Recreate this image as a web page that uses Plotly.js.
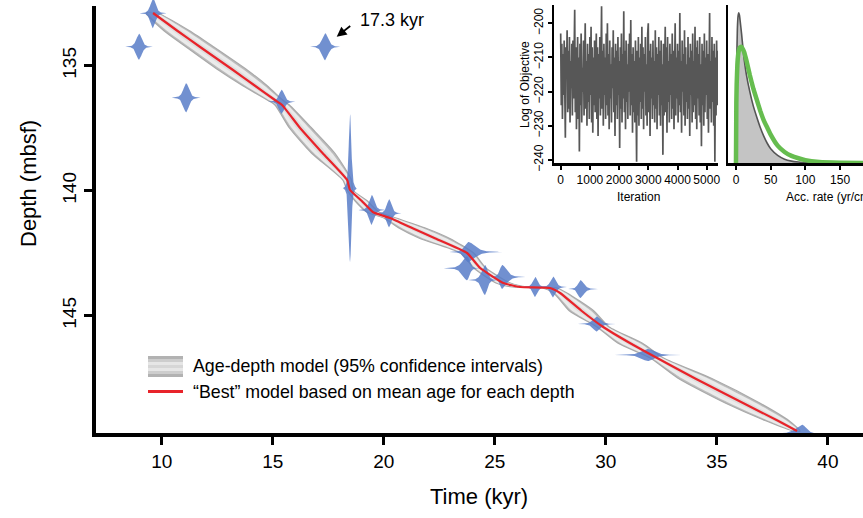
<!DOCTYPE html>
<html><head><meta charset="utf-8">
<script src="https://cdn.plot.ly/plotly-3.0.1.min.js"></script>
<style>html,body{margin:0;padding:0;background:#fff;overflow:hidden}#chart{width:863px;height:518px}</style>
</head><body><div id="chart"></div>
<script>
// ---------------- data ----------------
// age-depth model: depth (mbsf), mean age and 95% range (kyr)
const modelDepth = [132.89,133.6,134.25,135.17,135.8,136.37,136.57,137.49,138.5,139.57,139.97,140.4,140.86,141.09,141.5,141.9,142.49,143.09,143.69,143.85,143.89,144.09,144.8,145.45,146.1,146.69,147.5,148.5,149.2,149.61];
const modelMean  = [9.61,10.7,11.73,13.21,14.2,15.10,15.42,16.23,17.25,18.35,18.48,19.0,19.52,20.28,21.3,22.3,23.75,24.34,25.38,26.14,27.49,27.94,28.9,29.88,31.1,32.31,34.0,36.2,37.75,38.61];
const modelMin   = [9.3,10.1,11.1,12.55,13.65,14.75,15.1,15.75,16.75,18.15,18.35,18.7,19.25,20.0,20.7,21.6,23.45,24.05,25.05,25.8,27.15,27.65,28.35,29.6,30.55,32.0,33.25,35.4,37.2,38.45];
const modelMax   = [9.8,11.25,12.35,13.85,14.75,15.45,15.75,16.75,17.8,18.55,18.6,19.25,19.8,20.55,21.9,22.95,24.05,24.6,25.7,26.5,27.8,28.25,29.45,30.15,31.65,32.6,34.75,36.95,38.25,38.75];

// dated levels: calibrated age (kyr), depth (mbsf), spread (kyr) left/right, relative peak density
const dateAge     = [9.61,8.98,11.1,15.4,17.36,18.48,19.46,20.24,23.80,23.75,24.56,25.33,26.82,27.63,28.85,29.59,31.9,38.84];
const dateDepth   = [132.9,134.24,136.28,136.44,134.24,139.9,140.77,140.9,142.45,143.1,143.57,143.45,143.85,143.85,143.93,145.33,146.57,149.72];
const dateSdLeft  = [0.118,0.124,0.13,0.124,0.137,0.06,0.118,0.11,0.17,0.21,0.15,0.11,0.11,0.124,0.11,0.17,0.3,0.3];
const dateSdRight = [0.118,0.124,0.13,0.124,0.137,0.06,0.118,0.11,0.31,0.11,0.11,0.21,0.11,0.124,0.16,0.17,0.3,0.2];
const datePeak    = [1.0,0.87,0.97,0.8,0.9,4.93,1.0,0.93,0.67,0.8,1.0,0.8,0.67,0.7,0.6,0.5,0.4,0.6];

const xTicks = [10,15,20,25,30,35,40];
const yTicks = [135,140,145];

// MCMC trace: log of objective every 20 iterations
const traceStep = 20;
const logObjective = [
-203,-224,-206,-228,-209,-221,-205,-230,-233.5,-207,
-214,-202,-226,-208,-225,-204,-229,-211,-219,-206,
-227,-205,-222,-209,-196,-226,-207,-231,-212,-204,
-228,-210,-237.5,-206,-224,-203,-229,-213,-220,-205,
-227,-208,-200,-225,-211,-230,-206,-223,-209,-228,
-204,-221,-201,-229,-207,-232,-210,-224,-205,-226,
-212,-203,-228,-207,-233,-209,-222,-204,-227,-211,
-195,-225,-208,-230,-206,-221,-210,-228,-203,-224,
-200,-227,-209,-231,-205,-222,-212,-229,-207,-219,
-202,-226,-210,-233,-206,-224,-208,-228,-204,-221,
-211,-236.5,-207,-225,-203,-229,-209,-222,-196.5,-226,
-208,-231,-205,-223,-212,-228,-206,-220,-203,-227,
-199,-224,-209,-232,-207,-226,-211,-229,-205,-222,
-240.5,-208,-227,-204,-230,-210,-223,-206,-228,-201,
-225,-207,-231,-209,-220,-204,-227,-212,-230,-203,
-200,-226,-208,-233,-206,-222,-210,-228,-205,-224,
-211,-229,-202,-225,-207,-231,-209,-221,-204,-227,
-208,-230,-205,-224,-212,-238.5,-206,-227,-210,-201,
-226,-207,-232,-204,-223,-211,-229,-206,-221,-209,
-228,-203,-225,-208,-231,-205,-200,-227,-210,-222,
-206,-229,-208,-224,-197,-226,-211,-232,-205,-220,
-209,-227,-202,-230,-207,-223,-212,-228,-204,-225,
-210,-233,-206,-221,-208,-229,-203,-226,-211,-224,
-201,-228,-207,-231,-205,-222,-209,-227,-204,-229,
-212,-236,-206,-224,-208,-230,-203,-226,-210,-221,
-205,-228,-209,-232,-207,-197,-225,-211,-229,-204,
-223,-208,-230,-206,-240.5,-210,-227,-205,-224,-208];

// accumulation rate (yr/cm): posterior and prior densities (relative)
const accRate   = [0,0.5,1,2,3,4,5,6,8,10,12,15,20,25,30,35,40,45,50,60,70,80,90,100,120,150,183];
const accPost   = [0,0.4,0.62,0.85,0.93,0.95,0.935,0.9,0.82,0.73,0.65,0.56,0.45,0.36,0.29,0.225,0.17,0.125,0.09,0.048,0.024,0.012,0.006,0.002,0,0,0];
const accPrior  = [0,0.38,0.5,0.62,0.68,0.71,0.725,0.732,0.735,0.72,0.7,0.65,0.555,0.47,0.4,0.33,0.27,0.225,0.18,0.11,0.07,0.045,0.03,0.018,0.007,0.002,0];

// ---------------- geometry helpers ----------------
const W = 863, H = 518, ML = 94, MB = 83;
const PW = W - ML, PH = H - MB;
const px = x => (x - ML) / PW;
const py = y => (PH - y) / PH;
const FONT = 'Arial, "Liberation Sans", sans-serif';

const traces = [];

// band polygons
function band(f) {
  const xs = [], ys = [];
  for (let i = 0; i < modelDepth.length; i++) { xs.push(modelMean[i] - f * (modelMean[i] - modelMin[i])); ys.push(modelDepth[i]); }
  for (let i = modelDepth.length - 1; i >= 0; i--) { xs.push(modelMean[i] + f * (modelMax[i] - modelMean[i])); ys.push(modelDepth[i]); }
  xs.push(xs[0]); ys.push(ys[0]);
  return {xs, ys};
}
[[1, '#bcbcbc', '#a9a9a9', 1.2], [0.78, '#ebebeb', null, 0], [0.35, '#dddddd', null, 0]].forEach(([f, fc, lc, lw]) => {
  const b = band(f);
  traces.push({x: b.xs, y: b.ys, type: 'scatter', mode: 'lines', fill: 'toself', fillcolor: fc,
    line: {color: lc || fc, width: lw, shape: 'spline', smoothing: 0.6}, hoverinfo: 'skip', showlegend: false, xaxis: 'x', yaxis: 'y'});
});

// calibrated date distributions (Student-t, mirrored about depth)
const NU = 4, PEAK_SCALE = 0.6;
for (let i = 0; i < dateAge.length; i++) {
  const xs = [], ys = [];
  const h = datePeak[i] * PEAK_SCALE;
  const N = 60;
  const pts = [];
  for (let k = -N; k <= N; k++) {
    const t = k / N * 5;
    const sd = k < 0 ? dateSdLeft[i] : dateSdRight[i];
    const r = Math.pow(1 + t * t / NU, -(NU + 1) / 2);
    pts.push([dateAge[i] + t * sd, r]);
  }
  pts.forEach(p => { xs.push(p[0]); ys.push(dateDepth[i] - h * p[1]); });
  for (let k = pts.length - 1; k >= 0; k--) { xs.push(pts[k][0]); ys.push(dateDepth[i] + h * pts[k][1]); }
  traces.push({x: xs, y: ys, type: 'scatter', mode: 'lines', fill: 'toself', fillcolor: 'rgba(88,124,200,0.85)',
    line: {width: 0, color: 'rgba(88,124,200,0.85)'}, hoverinfo: 'skip', showlegend: false, xaxis: 'x', yaxis: 'y'});
}

// best model (mean age)
traces.push({x: modelMean, y: modelDepth, type: 'scatter', mode: 'lines',
  line: {color: '#e8232a', width: 2.2, shape: 'spline', smoothing: 0.4}, showlegend: false, xaxis: 'x', yaxis: 'y'});

// inset: MCMC trace
traces.push({x: logObjective.map((v, i) => i * traceStep), y: logObjective, type: 'scatter', mode: 'lines',
  line: {color: '#575757', width: 1.7}, showlegend: false, xaxis: 'x2', yaxis: 'y2'});

// inset: acc. rate posterior & prior
traces.push({x: accRate, y: accPost, type: 'scatter', mode: 'lines', fill: 'tozeroy', fillcolor: '#c4c4c4',
  line: {color: '#555555', width: 1.6, shape: 'spline', smoothing: 0.5}, showlegend: false, xaxis: 'x3', yaxis: 'y3'});
traces.push({x: accRate, y: accPrior, type: 'scatter', mode: 'lines',
  line: {color: '#66bd4f', width: 4.5, shape: 'spline', smoothing: 0.3}, showlegend: false, xaxis: 'x3', yaxis: 'y3'});

// ---------------- layout ----------------
const axBase = {showgrid: false, zeroline: false, ticks: 'outside', tickcolor: '#000', fixedrange: true};
const shapes = [
  {type: 'line', xref: 'paper', yref: 'y', x0: 0, x1: 0, y0: 149.86, y1: 132.61, line: {color: '#000', width: 4}},
  {type: 'line', xref: 'paper', yref: 'paper', x0: -2 / PW, x1: 1, y0: 0, y1: 0, line: {color: '#000', width: 4}},
];
// legend swatch (gradient stripes) and red line
const stripeColors = ['#b2b2b2', '#cdcdcd', '#e6e6e6', '#d6d6d6', '#e6e6e6', '#cdcdcd', '#b2b2b2'];
stripeColors.forEach((c, k) => {
  shapes.push({type: 'rect', xref: 'paper', yref: 'paper', x0: px(148), x1: px(183), y0: py(356 + 3 * k), y1: py(359 + 3 * k),
    fillcolor: c, line: {width: 0}});
});
shapes.push({type: 'line', xref: 'paper', yref: 'paper', x0: px(148), x1: px(183), y0: py(391.5), y1: py(391.5), line: {color: '#e8232a', width: 3}});

const annotations = [
  {xref: 'paper', yref: 'paper', x: px(191), y: py(366), xanchor: 'left', yanchor: 'middle', showarrow: false,
   text: 'Age-depth model (95% confidence intervals)', font: {family: FONT, size: 17.8, color: '#000'}},
  {xref: 'paper', yref: 'paper', x: px(191), y: py(391.5), xanchor: 'left', yanchor: 'middle', showarrow: false,
   text: '\u201cBest\u201d model based on mean age for each depth', font: {family: FONT, size: 17.8, color: '#000'}},
  {xref: 'paper', yref: 'paper', x: px(358), y: py(20), xanchor: 'left', yanchor: 'middle', showarrow: false,
   text: '17.3 kyr', font: {family: FONT, size: 18, color: '#000'}},
  {xref: 'x', yref: 'y', x: 17.88, y: 133.84, text: '', showarrow: true, ax: 15, ay: -12, arrowhead: 2, arrowsize: 1.1,
   arrowwidth: 1.8, arrowcolor: '#000', standoff: 0},
  {xref: 'paper', yref: 'paper', x: 0.5, y: py(497), xanchor: 'center', yanchor: 'middle', showarrow: false,
   text: 'Time (kyr)', font: {family: FONT, size: 22, color: '#000'}},
  {xref: 'paper', yref: 'paper', x: px(28), y: py(184), xanchor: 'center', yanchor: 'middle', showarrow: false, textangle: -90,
   text: 'Depth (mbsf)', font: {family: FONT, size: 22, color: '#000'}},
  {xref: 'paper', yref: 'paper', x: px(525), y: py(85), xanchor: 'center', yanchor: 'middle', showarrow: false, textangle: -90,
   text: 'Log of Objective', font: {family: FONT, size: 12, color: '#000'}},
  {xref: 'paper', yref: 'paper', x: px(638.5), y: py(197), xanchor: 'center', yanchor: 'middle', showarrow: false,
   text: 'Iteration', font: {family: FONT, size: 12, color: '#000'}},
  {xref: 'paper', yref: 'paper', x: px(784), y: py(197), xanchor: 'left', yanchor: 'middle', showarrow: false,
   text: 'Acc. rate (yr/cm)', font: {family: FONT, size: 12, color: '#000'}},
];

const layout = {
  width: W, height: H, margin: {l: ML, r: 0, t: 0, b: MB, pad: 0},
  paper_bgcolor: '#fff', plot_bgcolor: 'rgba(0,0,0,0)', showlegend: false,
  font: {family: FONT, color: '#000'},
  xaxis: Object.assign({}, axBase, {domain: [0, 1], range: [6.95, 41.58], tickvals: xTicks, ticklen: 9, tickwidth: 3,
    showline: false, anchor: 'y', tickfont: {family: FONT, size: 19, color: '#000'}}),
  yaxis: Object.assign({}, axBase, {domain: [0, 1], range: [149.77, 132.37], tickvals: yTicks, ticklen: 9, tickwidth: 3,
    showline: false, anchor: 'x', tickangle: -90, tickfont: {family: FONT, size: 19, color: '#000'}}),
  xaxis2: Object.assign({}, axBase, {domain: [px(554), px(718)], range: [-229, 5387], tickvals: [0,1000,2000,3000,4000,5000],
    ticklen: 4, tickwidth: 2, showline: true, linewidth: 2.5, linecolor: '#000', anchor: 'y2', tickfont: {family: FONT, size: 12, color: '#000'}}),
  yaxis2: Object.assign({}, axBase, {domain: [py(163), py(5)], range: [-240.88, -194.64], tickvals: [-200,-210,-220,-230,-240],
    ticklen: 4, tickwidth: 2, showline: true, linewidth: 2.5, linecolor: '#000', anchor: 'x2', tickangle: -90, tickfont: {family: FONT, size: 12, color: '#000'}}),
  xaxis3: Object.assign({}, axBase, {domain: [px(728), 1], range: [-11.5, 183], tickvals: [0,50,100,150],
    ticklen: 4, tickwidth: 2, showline: true, linewidth: 2.5, linecolor: '#000', anchor: 'y3', tickfont: {family: FONT, size: 12, color: '#000'}}),
  yaxis3: Object.assign({}, axBase, {domain: [py(163), py(5)], range: [0, 1], ticks: '', showticklabels: false,
    showline: true, linewidth: 2.5, linecolor: '#000', anchor: 'x3'}),
  shapes: shapes,
  annotations: annotations,
};

Plotly.newPlot('chart', traces, layout, {displayModeBar: false, staticPlot: true});
</script></body></html>
